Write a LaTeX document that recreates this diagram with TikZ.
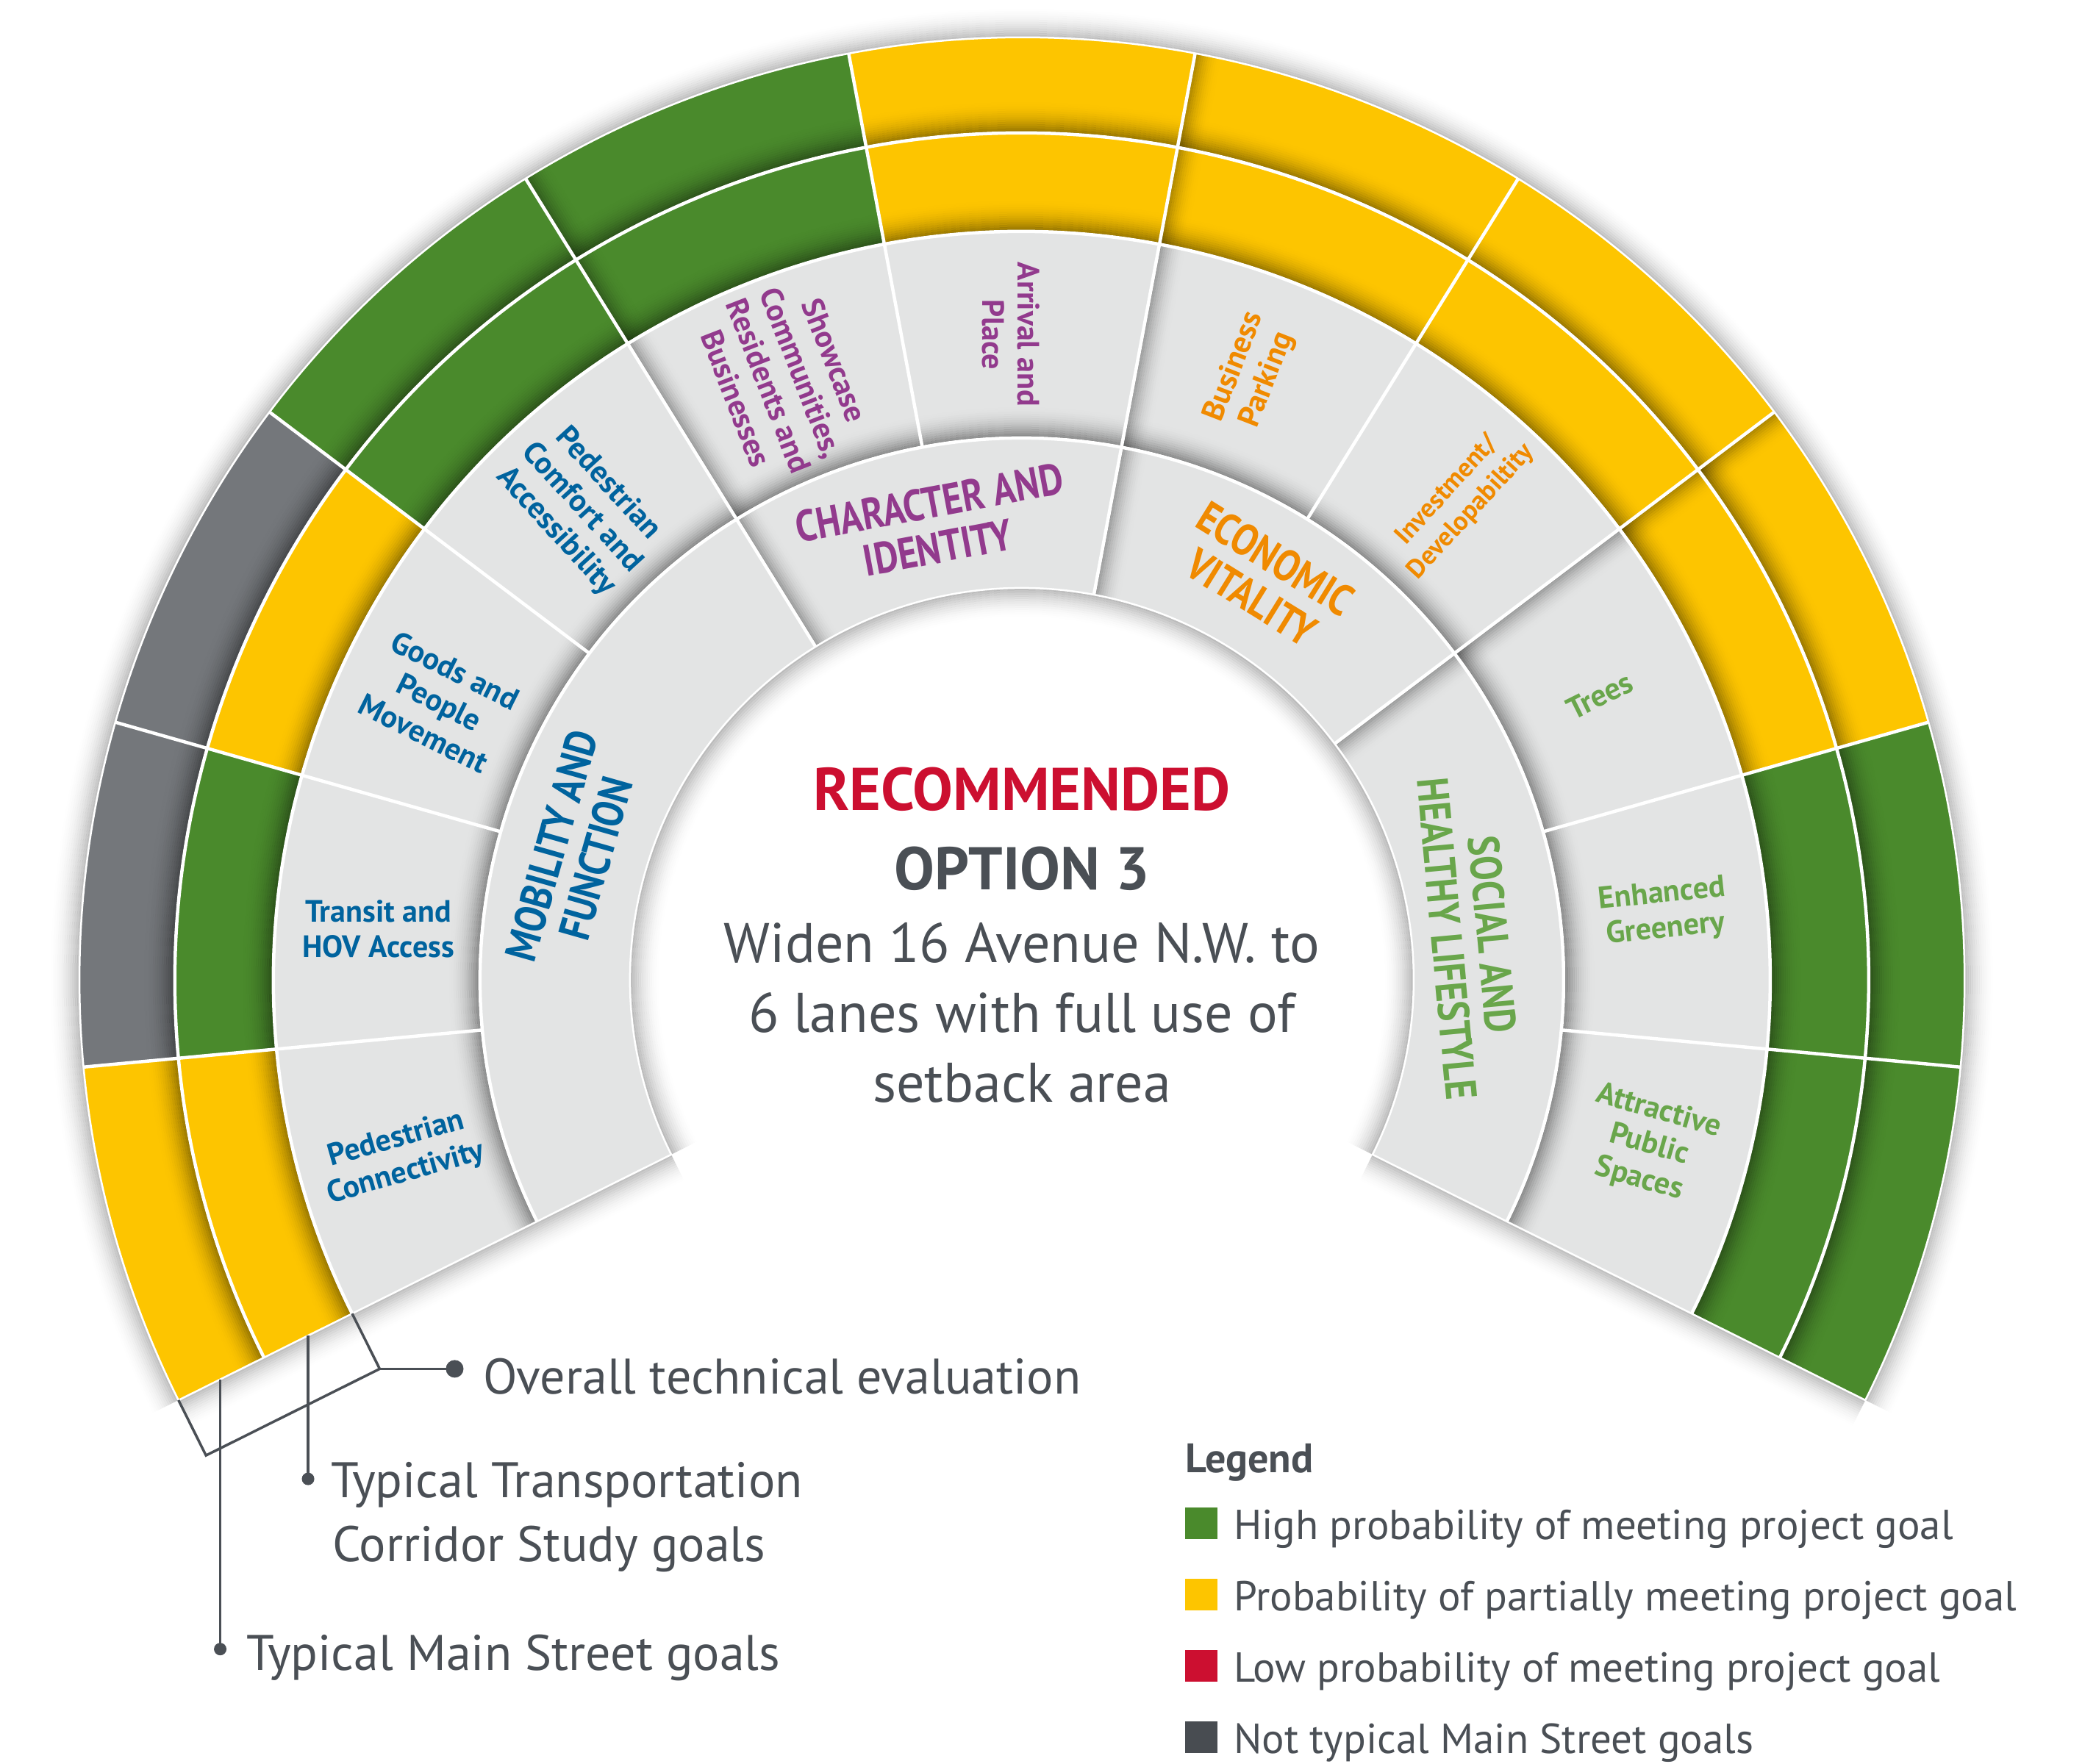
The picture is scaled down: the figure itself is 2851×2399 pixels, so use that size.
\documentclass[tikz,border=0pt]{standalone}
\usepackage{fontspec}
\setmainfont{PT Sans}
\newfontfamily\condfont[FakeStretch=0.84]{PT Sans}
\usetikzlibrary{calc}
\definecolor{cgreen}{HTML}{4A8A2C}
\definecolor{cyellow}{HTML}{FDC500}
\definecolor{cred}{HTML}{CC0F30}
\definecolor{cgray}{HTML}{74777B}
\definecolor{cdark}{HTML}{484C51}
\definecolor{clight}{HTML}{E3E4E4}
\definecolor{ctext}{HTML}{4A4F55}
\definecolor{cblue}{HTML}{00639E}
\definecolor{cpurple}{HTML}{923A8D}
\definecolor{corange}{HTML}{F08A00}
\definecolor{cltgreen}{HTML}{69A64B}
\newcommand{\annseg}[5]{\fill[#5] (#1:#3) arc[start angle=#1,end angle=#2,radius=#3] -- (#2:#4) arc[start angle=#2,end angle=#1,radius=#4] -- cycle;}
\tikzset{
  sublabel/.style={font=\bfseries\fontsize{42}{48}\selectfont, align=center, inner sep=0pt},
  catlabel/.style={font=\condfont\bfseries\fontsize{60}{62}\selectfont, align=center, inner sep=0pt},
  legendtext/.style={font=\fontsize{57}{66}\selectfont, text=ctext, anchor=base west, inner sep=0pt},
  calltext/.style={font=\fontsize{68}{80}\selectfont, text=ctext, anchor=base west, inner sep=0pt},
  callline/.style={draw=ctext, line width=3.5pt},
  sepline/.style={white, line width=4.5pt},
  legsq/.style={minimum width=44pt, minimum height=43pt, inner sep=0pt, anchor=south west},
}
\begin{document}
\begin{tikzpicture}[x=1pt,y=1pt]
\fill[white] (-1390,-1066) rectangle (1461,1333);
\useasboundingbox (-1390,-1066) rectangle (1461,1333);
\def\rA{533}\def\rB{737}\def\rC{1018}\def\rD{1152}\def\rE{1282}
% outer drop shadow
\foreach \i in {0,...,13}{
  \pgfmathsetmacro\rad{\rE+1.5+3*\i}
  \pgfmathsetmacro\op{0.24*(1-\i/14)^2}
  \draw[black, opacity=\op, line width=3pt] (206.5:\rad) arc[start angle=206.5,end angle=-26.5,radius=\rad];
  \pgfmathsetmacro\dd{1.5+3*\i}
  \draw[black, opacity=\op, line width=3pt] ($(206.5:\rA)+(296.5:\dd)$) -- ($(206.5:\rE)+(296.5:\dd)$);
  \draw[black, opacity=\op, line width=3pt] ($(-26.5:\rA)+(-116.5:\dd)$) -- ($(-26.5:\rE)+(-116.5:\dd)$);
}
% base rings
\annseg{206.5}{-26.5}{\rA}{\rC}{clight}
\foreach \k/\cb/\cc in {0/cyellow/cyellow,1/cgreen/cgray,2/cyellow/cgray,3/cgreen/cgreen,4/cgreen/cgreen,5/cyellow/cyellow,6/cyellow/cyellow,7/cyellow/cyellow,8/cyellow/cyellow,9/cgreen/cgreen,10/cgreen/cgreen}{
  \pgfmathsetmacro\aa{206.5-\k*21.181818}
  \pgfmathsetmacro\ab{206.5-(\k+1)*21.181818}
  \annseg{\aa}{\ab}{\rC}{\rD}{\cb}
  \annseg{\aa}{\ab}{\rD}{\rE}{\cc}
}
% inner shadows of rings
\foreach \rr in {\rB,\rC,\rD}{
  \foreach \i in {0,...,13}{
    \pgfmathsetmacro\rad{\rr+1.5+3*\i}
    \pgfmathsetmacro\op{0.4*(1-\i/14)^2}
    \draw[black, opacity=\op, line width=3pt] (206.5:\rad) arc[start angle=206.5,end angle=-26.5,radius=\rad];
  }}
% hole shadow
\foreach \i in {0,...,13}{
  \pgfmathsetmacro\rad{\rA-1.5-3*\i}
  \pgfmathsetmacro\op{0.26*(1-\i/14)^2}
  \draw[black, opacity=\op, line width=3pt] (206.5:\rad) arc[start angle=206.5,end angle=-26.5,radius=\rad];
}
% divider shadows at category boundaries
\foreach \k in {4,6,8}{
  \pgfmathsetmacro\aa{206.5-\k*21.181818}
  \pgfmathsetmacro\nn{\aa-90}
  \foreach \i in {0,...,11}{
    \pgfmathsetmacro\dd{1.5+3*\i}
    \pgfmathsetmacro\op{0.32*(1-\i/12)^2}
    \draw[black, opacity=\op, line width=3pt] ($(\aa:\rA)+(\nn:\dd)$) -- ($(\aa:\rE)+(\nn:\dd)$);
  }}
% white separators
\foreach \rr in {\rB,\rC,\rD}{
  \draw[sepline] (206.5:\rr) arc[start angle=206.5,end angle=-26.5,radius=\rr];}
\foreach \k in {1,...,10}{
  \pgfmathsetmacro\aa{206.5-\k*21.181818}
  \draw[sepline] (\aa:\rB) -- (\aa:\rE);}
\foreach \k in {4,6,8}{
  \pgfmathsetmacro\aa{206.5-\k*21.181818}
  \draw[sepline] (\aa:\rA) -- (\aa:\rB);}
\draw[white, line width=2.5pt] (206.5:\rA) arc[start angle=206.5,end angle=-26.5,radius=\rA] -- (-26.5:\rE) arc[start angle=-26.5,end angle=206.5,radius=\rE] -- cycle;
% sub-goal labels
\node[sublabel, text=cblue, rotate=15.9] (sg0) at (195.909:878) {Pedestrian\\Connectivity};
\node[sublabel, text=cblue, rotate=0] (sg1) at (175.5:878) {Transit and\\HOV Access};
\node[sublabel, text=cblue, rotate=-26.5] (sg2) at (154.5:878) {Goods and\\People\\Movement};
\node[sublabel, text=cblue, rotate=-47.6] (sg3) at (133:878) {Pedestrian\\Comfort and\\Accessibility};
\node[sublabel, text=cpurple, rotate=-68.8] (sg4) at (111.5:878) {Showcase\\Communities,\\Residents and\\Businesses};
\node[sublabel, text=cpurple, rotate=-90] (sg5) at (91:878) {Arrival and\\Place};
\node[sublabel, text=corange, rotate=68.8] (sg6) at (69.3:882) {Business\\Parking};
\node[sublabel, text=corange, rotate=47.6, font=\bfseries\fontsize{36}{44}\selectfont] (sg7) at (47.6:882) {Investment/\\Developabiltity};
\node[sublabel, text=cltgreen, rotate=26.5] (sg8) at (26.2:876) {Trees};
\node[sublabel, text=cltgreen, rotate=6] (sg9) at (6:878) {Enhanced\\Greenery};
\node[sublabel, text=cltgreen, rotate=-16] (sg10) at (-14.8:882) {Attractive\\Public\\Spaces};
% category labels
\node[catlabel, text=cblue, rotate=74.1] (c0) at (164.1:634) {MOBILITY AND\\FUNCTION};
\node[catlabel, text=cpurple, rotate=10.6] (c1) at (101:630) {CHARACTER AND\\IDENTITY};
\node[catlabel, text=corange, rotate=-31.8] (c2) at (59:638) {ECONOMIC\\VITALITY};
\node[catlabel, text=cltgreen, rotate=-84.7] (c3) at (5.5:612) {SOCIAL AND\\HEALTHY LIFESTYLE};
% center text
\node[font=\bfseries\fontsize{82}{86}\selectfont, text=cred, inner sep=0pt] (rec) at (0,259) {RECOMMENDED};
\node[font=\bfseries\fontsize{82}{86}\selectfont, text=ctext, inner sep=0pt] (opt) at (0,151) {OPTION 3};
\node[font=\fontsize{76}{95}\selectfont, text=ctext, align=center, inner sep=0pt] (desc) at (0,-45) {Widen 16 Avenue N.W. to\\6 lanes with full use of\\setback area};
% callouts
\coordinate (bA) at (206.5:\rC);
\coordinate (bB) at ($(bA)+(296.5:84)$);
\coordinate (bD) at (206.5:\rE);
\coordinate (bC) at ($(bD)+(296.5:84)$);
\coordinate (dotO) at ($(bB)+(102,0)$);
\draw[callline, line join=miter] (bA) -- (bB) -- (bC) -- (bD);
\draw[callline] (bB) -- (dotO);
\fill[ctext] (dotO) circle (12);
\coordinate (tT) at (206.5:1085);
\coordinate (dotT) at ($(tT)+(0,-195)$);
\draw[callline] (tT) -- (dotT);
\fill[ctext] (dotT) circle (8.5);
\coordinate (tM) at (206.5:1218.5);
\coordinate (dotM) at ($(tM)+(0,-367)$);
\draw[callline] (tM) -- (dotM);
\fill[ctext] (dotM) circle (8.5);
\node[calltext] (lO) at (-733,-563) {Overall technical evaluation};
\node[calltext] (lT1) at (-940,-704) {Typical Transportation};
\node[calltext] (lT2) at (-938,-791) {Corridor Study goals};
\node[calltext] (lM) at (-1055,-939) {Typical Main Street goals};
% legend
\node[font=\bfseries\fontsize{56}{60}\selectfont, text=ctext, anchor=base west, inner sep=0pt] (leg) at (222,-670) {Legend};
\node[legsq, fill=cgreen] (sq1) at (222,-761) {};
\node[legsq, fill=cyellow] (sq2) at (222,-858) {};
\node[legsq, fill=cred] (sq3) at (222,-955) {};
\node[legsq, fill=cdark] (sq4) at (222,-1052) {};
\node[legendtext] (lt1) at (288,-761) {High probability of meeting project goal};
\node[legendtext] (lt2) at (288,-858) {Probability of partially meeting project goal};
\node[legendtext] (lt3) at (288,-955) {Low probability of meeting project goal};
\node[legendtext] (lt4) at (288,-1052) {Not typical Main Street goals};
\end{tikzpicture}
\end{document}
